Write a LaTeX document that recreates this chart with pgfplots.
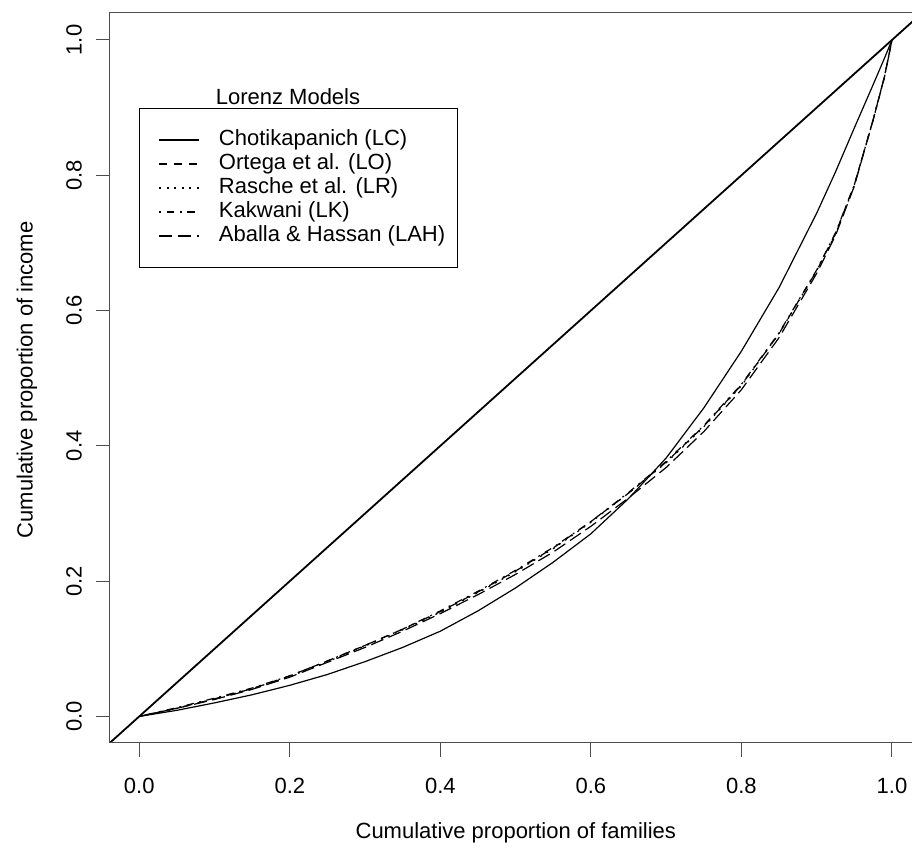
\documentclass[border=0pt]{standalone}
\usepackage{fontspec}
\setmainfont{Liberation Sans}
\usepackage{pgfplots}
\usepackage{pgfplotstable}
\pgfplotsset{compat=1.18}

\newcommand\rfont{\fontsize{11}{13}\selectfont}

% cumulative income shares
\pgfplotstableread{
x      lc     lo     lr     lk     lah
0      0      0      0      0      0
0.05   0.009  0.012  0.012  0.013  0.012
0.10   0.020  0.026  0.026  0.027  0.025
0.15   0.032  0.041  0.041  0.042  0.040
0.20   0.046  0.060  0.059  0.060  0.058
0.25   0.062  0.082  0.081  0.082  0.080
0.30   0.081  0.105  0.104  0.105  0.102
0.35   0.102  0.129  0.128  0.129  0.126
0.40   0.126  0.155  0.154  0.156  0.152
0.45   0.156  0.184  0.183  0.185  0.180
0.50   0.190  0.215  0.214  0.216  0.210
0.55   0.228  0.249  0.248  0.250  0.243
0.60   0.270  0.288  0.287  0.288  0.281
0.65   0.322  0.330  0.330  0.331  0.323
0.70   0.382  0.376  0.375  0.377  0.368
0.75   0.456  0.429  0.428  0.430  0.421
0.80   0.540  0.490  0.489  0.491  0.483
0.85   0.634  0.566  0.566  0.567  0.560
0.90   0.744  0.659  0.659  0.660  0.655
0.925  0.805  0.714  0.713  0.715  0.711
0.95   0.870  0.786  0.785  0.786  0.784
0.975  0.934  0.882  0.882  0.882  0.882
0.99   0.973  0.945  0.945  0.945  0.946
1.00   1      1      1      1      1
}\lorenz

\begin{document}
\begin{tikzpicture}
\begin{axis}[
 at={(0,0)},anchor=south west,
 scale only axis,width=401pt,height=365pt,
 xmin=-0.0389,xmax=1.0266,ymin=-0.0393,ymax=1.0399,
 xtick={0,0.2,0.4,0.6,0.8,1},ytick={0,0.2,0.4,0.6,0.8,1},
 tick pos=left,tick align=outside,major tick length=7pt,
 every tick/.style={black!70,line width=0.5pt},
 axis line style={draw=none},
 clip mode=individual,
 tick label style={font=\rfont},
 xticklabel style={anchor=center,yshift=-14.5pt},
 yticklabel style={rotate=90,anchor=center,yshift=11pt},
 /pgf/number format/.cd,fixed,fixed zerofill,precision=1,assume math mode=true,
 /pgfplots/.cd,
 xlabel={Cumulative proportion of families},
 ylabel={Cumulative proportion of income},
 label style={font=\rfont},
 xlabel style={at={(rel axis cs:0.506,-0.1228)},anchor=center},
 ylabel style={at={(rel axis cs:-0.1035,0.4975)},anchor=center},
 legend style={at={(axis cs:0,0.8995)},anchor=north west,draw=black,line width=0.5pt,
  font=\rfont,inner xsep=6pt,inner ysep=10.5pt,row sep=1.5pt,column sep=9.5pt,
  nodes={inner sep=0pt,text height=8pt,text depth=2.5pt}},
 legend cell align=left,
 legend image code/.code={\path (0pt,0pt);\draw[#1] (3.5pt,0pt) -- (23.5pt,0pt);},
]
\addplot[black,line width=0.9pt,forget plot] coordinates {(-0.1,-0.1) (1.1,1.1)};
\addplot[black,line width=0.6pt] table[x=x,y=lc]{\lorenz};
\addlegendentry{Chotikapanich (LC)}
\addplot[black,line width=0.6pt,dash pattern=on 3.75pt off 3.75pt] table[x=x,y=lo]{\lorenz};
\addlegendentry{Ortega et al. (LO)}
\addplot[black,line width=0.6pt,dash pattern=on 0.94pt off 2.8pt] table[x=x,y=lr]{\lorenz};
\addlegendentry{Rasche et al. (LR)}
\addplot[black,line width=0.6pt,dash pattern=on 0.94pt off 2.8pt on 3.75pt off 2.8pt] table[x=x,y=lk]{\lorenz};
\addlegendentry{Kakwani (LK)}
\addplot[black,line width=0.6pt,dash pattern=on 6.56pt off 2.8pt] table[x=x,y=lah]{\lorenz};
\addlegendentry{Aballa \& Hassan (LAH)}
\draw[black!70,line width=0.5pt] (rel axis cs:1,1) -- (rel axis cs:0,1) -- (rel axis cs:0,0) -- (rel axis cs:1,0);
\node[font=\rfont,anchor=center] at (axis cs:0.1976,0.9157) {Lorenz Models};
\end{axis}
\pgfresetboundingbox
\path[use as bounding box] (-55pt,-53.5pt) rectangle (401pt,371.5pt);
\end{tikzpicture}
\end{document}
